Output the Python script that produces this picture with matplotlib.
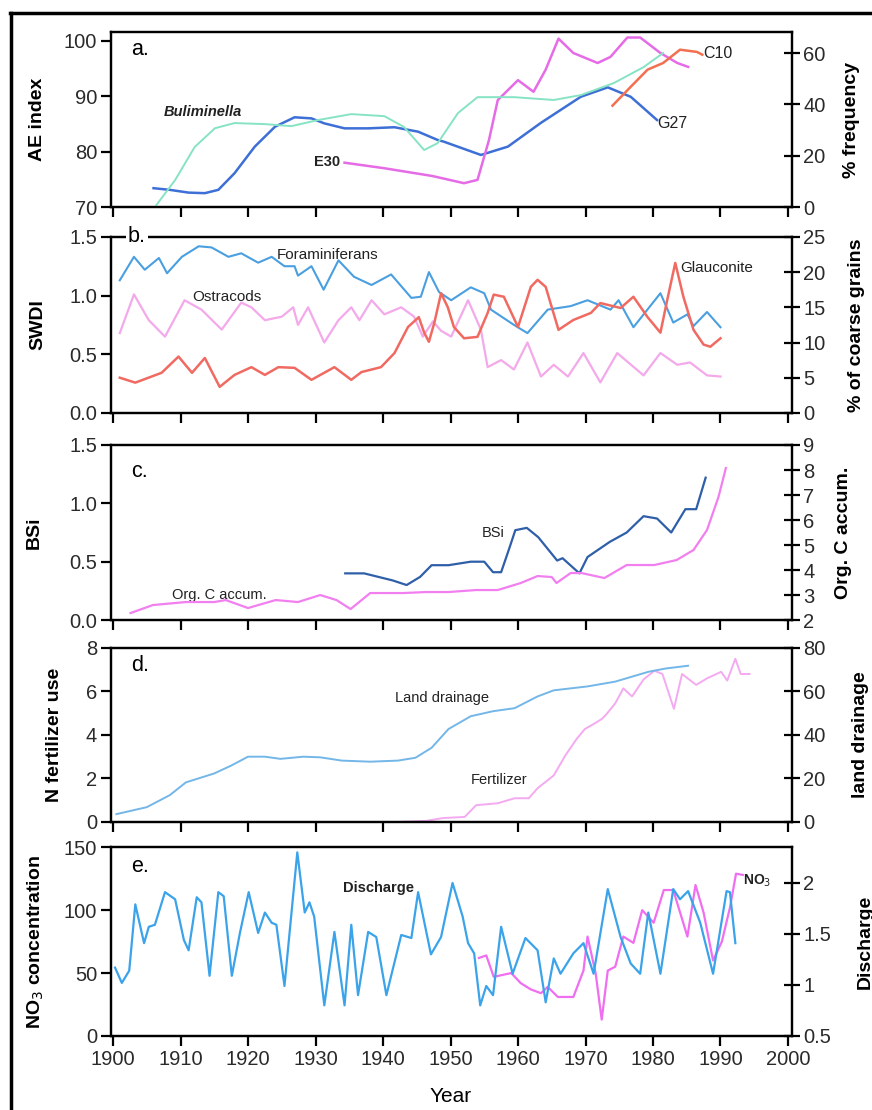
import matplotlib

matplotlib.use("Agg")
import matplotlib.pyplot as plt
from matplotlib.lines import Line2D

plt.rcParams["font.family"] = ["Liberation Sans", "DejaVu Sans"]

# ---- panel a: AE index (left) and Buliminella % frequency (right)
g27_yr = [1906, 1908.4, 1911.2, 1913.6, 1915.6, 1918, 1921, 1924, 1926.9, 1929.4, 1931.3,
          1934.3, 1937.8, 1941.7, 1945.2, 1948.1, 1949, 1954.5, 1958.5, 1963.4, 1969.3,
          1973.3, 1976.7, 1980.6]
g27_ae = [73.4, 73.1, 72.6, 72.5, 73.1, 76.1, 80.9, 84.5, 86.2, 86.0, 85.1,
          84.2, 84.2, 84.4, 83.6, 82.1, 81.8, 79.4, 80.9, 85.2, 89.9, 91.6, 89.9, 85.7]
bul_yr = [1906.2, 1909.2, 1912.1, 1915.1, 1918, 1922.5, 1926.4, 1930.4, 1935.3, 1940.2,
          1943.1, 1946.1, 1948.1, 1951.1, 1954, 1959.4, 1965.3, 1969.3, 1974.2, 1978.6, 1981.5]
bul_pct = [0, 10.5, 23.4, 30.7, 32.7, 32.3, 31.5, 33.9, 36.2, 35.4,
           31.2, 22.2, 24.9, 36.6, 42.8, 42.8, 41.7, 43.6, 48.3, 54.5, 60]
e30_yr = [1934.3, 1940.2, 1947.3, 1952, 1954, 1955.7, 1957, 1960, 1962.3, 1964.1, 1966,
          1968.2, 1971.8, 1973.7, 1976.2, 1978.1, 1981.1, 1983.6, 1985.2]
e30_ae = [78, 77, 75.6, 74.3, 74.9, 82.1, 89.3, 92.9, 90.8, 94.8, 100.4,
          97.8, 96, 97.1, 100.6, 100.6, 97.8, 96, 95.3]
c10_yr = [1974, 1976.7, 1979.2, 1981.5, 1984, 1986.5, 1987.3]
c10_ae = [88.3, 91.7, 94.8, 96, 98.4, 98, 97.5]

# ---- panel b: SWDI (left) and % coarse grains (right)
fora_yr = [1901, 1903.1, 1904.7, 1906.8, 1908, 1910.2, 1912.7, 1914.6, 1917.1, 1919,
           1921.5, 1923.5, 1925.4, 1926.9, 1927.4, 1929.4, 1931.2, 1933.4, 1935.7, 1938.3,
           1941.2, 1944.2, 1945.6, 1946.8, 1948.3, 1950.1, 1953, 1955, 1956, 1959.4,
           1961.4, 1964.4, 1967.8, 1970.3, 1973.7, 1974.9, 1977.1, 1981.1, 1983, 1985.1,
           1986, 1988, 1990]
fora_swdi = [1.13, 1.33, 1.22, 1.32, 1.19, 1.33, 1.42, 1.41, 1.33, 1.36,
             1.28, 1.33, 1.25, 1.25, 1.17, 1.25, 1.05, 1.30, 1.16, 1.09,
             1.18, 0.98, 0.99, 1.20, 1.03, 0.96, 1.07, 1.02, 0.88, 0.75,
             0.68, 0.88, 0.91, 0.96, 0.88, 0.96, 0.73, 1.02, 0.77, 0.84,
             0.74, 0.86, 0.73]
ostr_yr = [1901, 1903.1, 1905.3, 1907.7, 1910.6, 1913.1, 1916.1, 1919, 1920.5, 1922.5,
           1925, 1926.7, 1927.4, 1928.9, 1931.3, 1933.4, 1935.3, 1936.5, 1938.3, 1940.2,
           1942.7, 1944.6, 1945.9, 1947.4, 1948.6, 1950.1, 1952.6, 1954.5, 1955.5, 1957.5,
           1959.4, 1961.4, 1963.4, 1965.3, 1967.4, 1969.7, 1972.2, 1974.7, 1978.6, 1981.1,
           1983.6, 1985.5, 1988, 1990]
ostr_swdi = [0.68, 1.01, 0.79, 0.65, 0.96, 0.88, 0.71, 0.94, 0.90, 0.79,
             0.82, 0.90, 0.75, 0.90, 0.60, 0.79, 0.90, 0.79, 0.96, 0.84,
             0.90, 0.82, 0.65, 0.78, 0.70, 0.65, 0.96, 0.71, 0.39, 0.45,
             0.37, 0.60, 0.31, 0.41, 0.31, 0.51, 0.26, 0.51, 0.32, 0.51,
             0.41, 0.43, 0.32, 0.31]
glau_yr = [1901, 1903.3, 1907.2, 1909.7, 1911.7, 1913.6, 1915.8, 1918, 1920.5, 1922.5,
           1924.5, 1926.9, 1929.4, 1932.8, 1935.3, 1936.8, 1939.7, 1941.7, 1943.7, 1945.3,
           1946.1, 1946.8, 1947.6, 1948.6, 1949.6, 1950.5, 1952, 1954, 1955.5, 1956.4,
           1957.9, 1960, 1961.9, 1962.9, 1964.1, 1966, 1968.2, 1970.8, 1972.2, 1975.2,
           1977.1, 1979.2, 1981.1, 1982.1, 1983.3, 1984.5, 1986, 1987.5, 1988.5, 1990]
glau_pct = [5.0, 4.3, 5.7, 8.0, 5.7, 7.8, 3.7, 5.4, 6.5, 5.4,
            6.5, 6.4, 4.7, 6.5, 4.7, 5.8, 6.5, 8.5, 12.2, 13.6,
            11.4, 10.1, 12.8, 17.0, 15.0, 12.2, 10.6, 10.8, 14.2, 16.8,
            16.5, 12.2, 17.9, 18.9, 17.9, 11.8, 13.2, 14.2, 15.6, 14.9,
            16.5, 13.6, 11.4, 16.0, 21.3, 16.5, 11.8, 9.7, 9.4, 10.6]

# ---- panel c: BSi (left) and Org. C accumulation (right)
bsi_yr = [1934.4, 1937.2, 1941.4, 1943.5, 1945.5, 1947.2, 1949.7, 1953, 1955, 1956.3,
          1957.5, 1958.8, 1959.6, 1961.3, 1963, 1965.8, 1966.6, 1969.1, 1970.3, 1973.6,
          1976.1, 1978.6, 1980.6, 1982.7, 1984.8, 1986.4, 1987.8]
bsi_val = [0.40, 0.40, 0.34, 0.30, 0.37, 0.47, 0.47, 0.50, 0.50, 0.41,
           0.41, 0.63, 0.77, 0.79, 0.71, 0.51, 0.53, 0.40, 0.54, 0.67,
           0.75, 0.89, 0.87, 0.75, 0.95, 0.95, 1.22]
orgc_yr = [1902.6, 1905.9, 1910.8, 1915, 1916.7, 1920, 1924.1, 1927.4, 1930.7, 1933.1,
           1935.2, 1938.1, 1943, 1946.4, 1949.7, 1953.8, 1957, 1960.4, 1962.9, 1965,
           1965.7, 1967.8, 1969.4, 1972.8, 1976.1, 1980.2, 1983.5, 1986, 1988, 1989.7, 1990.8]
orgc_val = [2.28, 2.60, 2.72, 2.72, 2.80, 2.48, 2.80, 2.72, 3.00, 2.80,
            2.44, 3.08, 3.08, 3.12, 3.12, 3.20, 3.20, 3.48, 3.76, 3.72,
            3.48, 3.88, 3.88, 3.68, 4.20, 4.20, 4.40, 4.80, 5.60, 6.92, 8.08]

# ---- panel d: N fertilizer use (left) and land drainage (right)
drain_yr = [1900.5, 1905, 1908.4, 1910.8, 1915, 1917.5, 1920, 1922.5, 1924.8, 1928.2,
            1930.7, 1933.9, 1938.1, 1942.2, 1944.8, 1947.2, 1949.7, 1953, 1956.3, 1959.5,
            1962.9, 1965.3, 1970.3, 1974.4, 1979.3, 1981.8, 1985.2]
drain_val = [3.6, 6.8, 12.3, 18.2, 22.3, 25.9, 30, 30, 29, 30,
             29.7, 28.2, 27.7, 28.2, 29.5, 34.1, 42.7, 48.6, 50.9, 52.3,
             57.7, 60.5, 62.3, 64.5, 69, 70.5, 71.8]
fert_yr = [1942.2, 1946.4, 1948.9, 1952.1, 1953.8, 1957, 1959.5, 1961.6, 1962.9, 1965.3,
           1967, 1968.7, 1969.9, 1971.2, 1972.4, 1973.1, 1974.4, 1975.6, 1976.9, 1978.6,
           1980.2, 1981.4, 1983.1, 1984.3, 1986.4, 1988, 1990.1, 1991, 1992.2, 1993, 1994.3]
fert_val = [0, 0.05, 0.18, 0.23, 0.77, 0.86, 1.09, 1.09, 1.55, 2.14,
            3.05, 3.82, 4.27, 4.5, 4.73, 4.95, 5.45, 6.14, 5.77, 6.55,
            6.95, 6.8, 5.2, 6.8, 6.3, 6.6, 6.9, 6.5, 7.5, 6.8, 6.8]

# ---- panel e: NO3 concentration (left) and discharge (right)
dis_yr = [1900.3, 1901.3, 1902.4, 1903.3, 1904.6, 1905.3, 1906.2, 1907.7, 1909.2, 1910.5,
          1911.2, 1912.4, 1913.1, 1914.3, 1915.6, 1916.4, 1917.6, 1918.8, 1920.1, 1921.5,
          1922.5, 1923.5, 1924.2, 1925.4, 1927.3, 1928.4, 1929.1, 1929.8, 1931.3, 1932.8,
          1934.3, 1935.3, 1936.3, 1937.8, 1939, 1940.5, 1942.7, 1944.2, 1945.2, 1947.1,
          1948.6, 1950.3, 1951.8, 1952.6, 1953.5, 1954.4, 1955.3, 1956.3, 1957.5, 1959.2,
          1961.1, 1962.9, 1964.1, 1965.3, 1966.3, 1968.2, 1969.7, 1971.2, 1973.3, 1975.2,
          1976.7, 1978.1, 1979.3, 1981.1, 1983, 1984, 1985.2, 1987, 1988.9, 1990.9,
          1991.4, 1992.2]
dis_val = [1.17, 1.02, 1.14, 1.79, 1.41, 1.57, 1.59, 1.91, 1.84, 1.44,
           1.34, 1.86, 1.81, 1.09, 1.91, 1.87, 1.09, 1.51, 1.91, 1.51,
           1.71, 1.61, 1.59, 0.99, 2.30, 1.71, 1.81, 1.67, 0.80, 1.52,
           0.80, 1.59, 0.90, 1.52, 1.47, 0.90, 1.49, 1.46, 1.91, 1.30,
           1.47, 2.00, 1.67, 1.41, 1.31, 0.80, 0.99, 0.90, 1.57, 1.11,
           1.46, 1.34, 0.83, 1.26, 1.11, 1.31, 1.41, 1.11, 1.94, 1.47,
           1.21, 1.11, 1.71, 1.11, 1.94, 1.84, 1.92, 1.61, 1.11, 1.92,
           1.91, 1.41]
no3_yr = [1954.2, 1955.3, 1956.4, 1959, 1960.4, 1961.9, 1963.4, 1964.4, 1965.9, 1968.2,
          1969.7, 1970.3, 1971.5, 1972.4, 1973.3, 1974.4, 1975.6, 1977.1, 1978.4, 1980.1,
          1981.6, 1983, 1985.1, 1986.3, 1987.5, 1988.9, 1990.2, 1991.4, 1992.3, 1993.3]
no3_val = [62, 64, 47, 50, 42, 37, 34, 39, 31, 31,
           52, 79, 50, 13, 52, 55, 79, 74, 100, 90,
           116, 116, 79, 120, 98, 60, 75, 102, 129, 128]

years = list(range(1900, 2001, 10))

# colours
BLUE, CYAN, MAGENTA, ORANGE = "#3d6fd6", "#86e3c4", "#e66be6", "#f2704f"
FORA, OSTR, GLAU = "#4a9fe0", "#f3a9ea", "#f06a62"
BSI, ORGC = "#2f5fa8", "#f27ff0"
DRAIN, FERT = "#73b6e8", "#f4aaf0"
DIS, NO3 = "#3ba3ea", "#f06ef0"
TXT = "#2a2a2a"

fig = plt.figure(figsize=(8.72, 11.1), dpi=100)
L, W = 0.1273, 0.781
rects = [(0.8135, 0.1577), (0.628, 0.1586), (0.4414, 0.1577), (0.2595, 0.1568), (0.0667, 0.170)]


def panel(rect, ylim, yticks, ylim2, yticks2, ylab, ylab2, ylx=-0.104, ylx2=1.09,
          ytl=None, ytl2=None, last=False):
    ax = fig.add_axes([L, rect[0], W, rect[1]])
    ax2 = ax.twinx()
    ax.set_xlim(1899.7, 2000.6)
    ax.set_ylim(*ylim)
    ax2.set_ylim(*ylim2)
    ax.set_xticks(years)
    ax.set_yticks(yticks)
    ax2.set_yticks(yticks2)
    if ytl is not None:
        ax.set_yticklabels(ytl)
    if ytl2 is not None:
        ax2.set_yticklabels(ytl2)
    if not last:
        ax.set_xticklabels([])
    ax.tick_params(axis="both", direction="out", length=7, width=1.6, labelsize=14.5,
                   labelcolor=TXT, pad=3)
    ax2.tick_params(axis="y", direction="inout", length=12, width=1.6, labelsize=14.5,
                    labelcolor=TXT, pad=2)
    for a in (ax, ax2):
        for s in a.spines.values():
            s.set_linewidth(1.6)
    ax.set_ylabel(ylab, fontsize=14, fontweight="bold")
    ax2.set_ylabel(ylab2, fontsize=14, fontweight="bold")
    ax.yaxis.set_label_coords(ylx, 0.5)
    ax2.yaxis.set_label_coords(ylx2, 0.5)
    return ax, ax2


def tag(ax2, s, x=0.03, y=0.88, box=False):
    kw = dict(transform=ax2.transAxes, fontsize=15.5, color="black", zorder=10,
              ha="left", va="center")
    if box:
        kw["bbox"] = dict(fc="white", ec="none", pad=1.5)
    ax2.text(x, y, s, **kw)


def note(ax, x, y, s, size=10.5, **kw):
    ax.text(x, y, s, fontsize=size, color="#222", va="center", ha="left", **kw)


# a.
ax, ax2 = panel(rects[0], (70, 101.6), [70, 80, 90, 100], (0, 68.2), [0, 20, 40, 60],
                "AE index", "% frequency", ylx=-0.095, ylx2=1.075)
ax2.plot(bul_yr, bul_pct, color=CYAN, lw=1.4)
ax.plot(g27_yr, g27_ae, color=BLUE, lw=1.8)
ax.plot(e30_yr, e30_ae, color=MAGENTA, lw=1.8)
ax.plot(c10_yr, c10_ae, color=ORANGE, lw=1.8)
note(ax, 1907.5, 87.2, "Buliminella", fontweight="bold", style="italic")
note(ax, 1929.8, 78.1, "E30", fontweight="bold")
note(ax, 1987.4, 97.8, "C10", size=11.5)
note(ax, 1980.6, 85.0, "G27", size=11.5)
tag(ax2, "a.", y=0.9)

# b.
ax, ax2 = panel(rects[1], (0, 1.5), [0, 0.5, 1.0, 1.5], (0, 25), [0, 5, 10, 15, 20, 25],
                "SWDI", "% of coarse grains", ylx=-0.095, ylx2=1.082,
                ytl=["0.0", "0.5", "1.0", "1.5"])
ax.plot(ostr_yr, ostr_swdi, color=OSTR, lw=1.6)
ax2.plot(glau_yr, glau_pct, color=GLAU, lw=1.8)
ax.plot(fora_yr, fora_swdi, color=FORA, lw=1.5)
note(ax, 1924.2, 1.347, "Foraminiferans", size=11)
note(ax, 1911.7, 0.99, "Ostracods", size=11)
note(ax2, 1984, 20.6, "Glauconite", size=11)
tag(ax2, "b.", x=0.025, y=1.0, box=True)

# c.
ax, ax2 = panel(rects[2], (0, 1.5), [0, 0.5, 1.0, 1.5], (2, 9), list(range(2, 10)),
                "BSi", "Org. C accum.", ylx=-0.1, ylx2=1.063,
                ytl=["0.0", "0.5", "1.0", "1.5"])
ax2.plot(orgc_yr, orgc_val, color=ORGC, lw=1.6)
ax.plot(bsi_yr, bsi_val, color=BSI, lw=1.6)
note(ax, 1954.6, 0.745, "BSi")
note(ax, 1908.7, 0.214, "Org. C accum.")
tag(ax2, "c.", y=0.85)

# d.
ax, ax2 = panel(rects[3], (0, 8), [0, 2, 4, 6, 8], (0, 80), [0, 20, 40, 60, 80],
                "N fertilizer use", "land drainage", ylx=-0.07, ylx2=1.088)
ax.plot(fert_yr, fert_val, color=FERT, lw=1.4)
ax2.plot(drain_yr, drain_val, color=DRAIN, lw=1.4)
note(ax, 1941.8, 5.68, "Land drainage")
note(ax, 1953, 1.91, "Fertilizer")
tag(ax2, "d.", y=0.9)

# e.
ax, ax2 = panel(rects[4], (0, 150), [0, 50, 100, 150], (0.5, 2.35),
                [0.5, 1, 1.5, 2], "NO$_3$ concentration", "Discharge", ylx=-0.095,
                ylx2=1.095, ytl2=["0.5", "1", "1.5", "2"], last=True)
ax2.plot(dis_yr, dis_val, color=DIS, lw=1.6)
ax.plot(no3_yr, no3_val, color=NO3, lw=1.6)
note(ax, 1934.1, 118, "Discharge", fontweight="bold")
note(ax, 1993.4, 123, "NO$_3$", size=10, fontweight="bold")
ax.set_xlabel("Year", fontsize=15, color="black")
ax.xaxis.set_label_coords(0.498, -0.27)
tag(ax2, "e.", y=0.9)

# outer frame: left and top edges only
fig.add_artist(Line2D([0.0125, 0.0125], [-0.01, 0.9885], color="black", lw=2.5,
                      transform=fig.transFigure))
fig.add_artist(Line2D([0.0115, 1.0], [0.9885, 0.9885], color="black", lw=2.5,
                      transform=fig.transFigure))

fig.savefig("out.png", dpi=100)
